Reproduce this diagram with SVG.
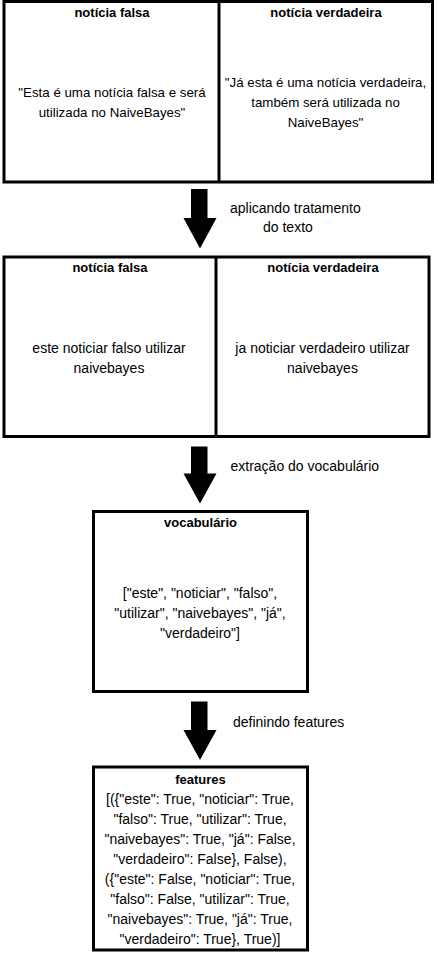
<svg xmlns="http://www.w3.org/2000/svg" width="438" height="960" viewBox="0 0 438 960">
<style>
.box{fill:#fff;stroke:#000;stroke-width:3}
.div{stroke:#000;stroke-width:3}
.arrow{fill:#000;stroke:none}
text{font-family:"Liberation Sans",Arial,sans-serif;fill:#000}
.t{font-size:13px;font-weight:bold;text-anchor:middle}
.b{font-size:14px;text-anchor:middle}
.s{font-size:13.3px;text-anchor:middle}
.l{font-size:14px}
</style>
<rect width="438" height="960" fill="#fff"/>
<g id="node-originais">
<rect class="box" x="4" y="1.5" width="428.5" height="180.5"/>
<line class="div" x1="219" y1="1.5" x2="219" y2="182"/>
<text class="t" x="112" y="16.5">notícia falsa</text>
<text class="t" x="326" y="16.5">notícia verdadeira</text>
<text class="s" x="112" y="97">"Esta é uma notícia falsa e será</text>
<text class="s" x="112" y="117">utilizada no NaiveBayes"</text>
<text class="s" x="325.5" y="87">"Já esta é uma notícia verdadeira,</text>
<text class="s" x="325.5" y="107">também será utilizada no</text>
<text class="s" x="325.5" y="127">NaiveBayes"</text>
</g>
<g id="node-tratadas">
<rect class="box" x="4" y="257" width="425" height="179.5"/>
<line class="div" x1="216" y1="257" x2="216" y2="436.5"/>
<text class="t" x="110" y="272">notícia falsa</text>
<text class="t" x="323" y="272">notícia verdadeira</text>
<text class="b" x="109" y="353">este noticiar falso utilizar</text>
<text class="b" x="109" y="373">naivebayes</text>
<text class="b" x="322.5" y="353">ja noticiar verdadeiro utilizar</text>
<text class="b" x="322.5" y="373">naivebayes</text>
</g>
<g id="node-vocabulario">
<rect class="box" x="93.5" y="511.5" width="214" height="180"/>
<text class="t" x="200.5" y="527">vocabulário</text>
<text class="b" x="200" y="598">["este", "noticiar", "falso",</text>
<text class="b" x="200" y="618">"utilizar", "naivebayes", "já",</text>
<text class="b" x="200" y="638">"verdadeiro"]</text>
</g>
<g id="node-features">
<rect class="box" x="93.5" y="767" width="214" height="183"/>
<text class="t" x="200.5" y="784">features</text>
<text class="b" x="200" y="804">[({"este": True, "noticiar": True,</text>
<text class="b" x="200" y="824">"falso": True, "utilizar": True,</text>
<text class="b" x="200" y="844">"naivebayes": True, "já": False,</text>
<text class="b" x="200" y="864">"verdadeiro": False}, False),</text>
<text class="b" x="200" y="884">({"este": False, "noticiar": True,</text>
<text class="b" x="200" y="904">"falso": False, "utilizar": True,</text>
<text class="b" x="200" y="924">"naivebayes": True, "já": True,</text>
<text class="b" x="200" y="944">"verdadeiro": True}, True)]</text>
</g>
<g id="connectors">
<polygon class="arrow" points="191,189 207.5,189 207.5,218 216.5,218 200,248.5 183.5,218 191,218"/>
<text class="l" x="230" y="213">aplicando tratamento</text>
<text class="l" x="263" y="231.5">do texto</text>
<polygon class="arrow" points="191,446.5 207.5,446.5 207.5,473.5 216.5,473.5 200,503.5 183.5,473.5 191,473.5"/>
<text class="l" x="230.5" y="470.5">extração do vocabulário</text>
<polygon class="arrow" points="191,701.5 207.5,701.5 207.5,730 216.5,730 200,760 183.5,730 191,730"/>
<text class="l" x="233" y="726.5">definindo features</text>
</g>
</svg>
